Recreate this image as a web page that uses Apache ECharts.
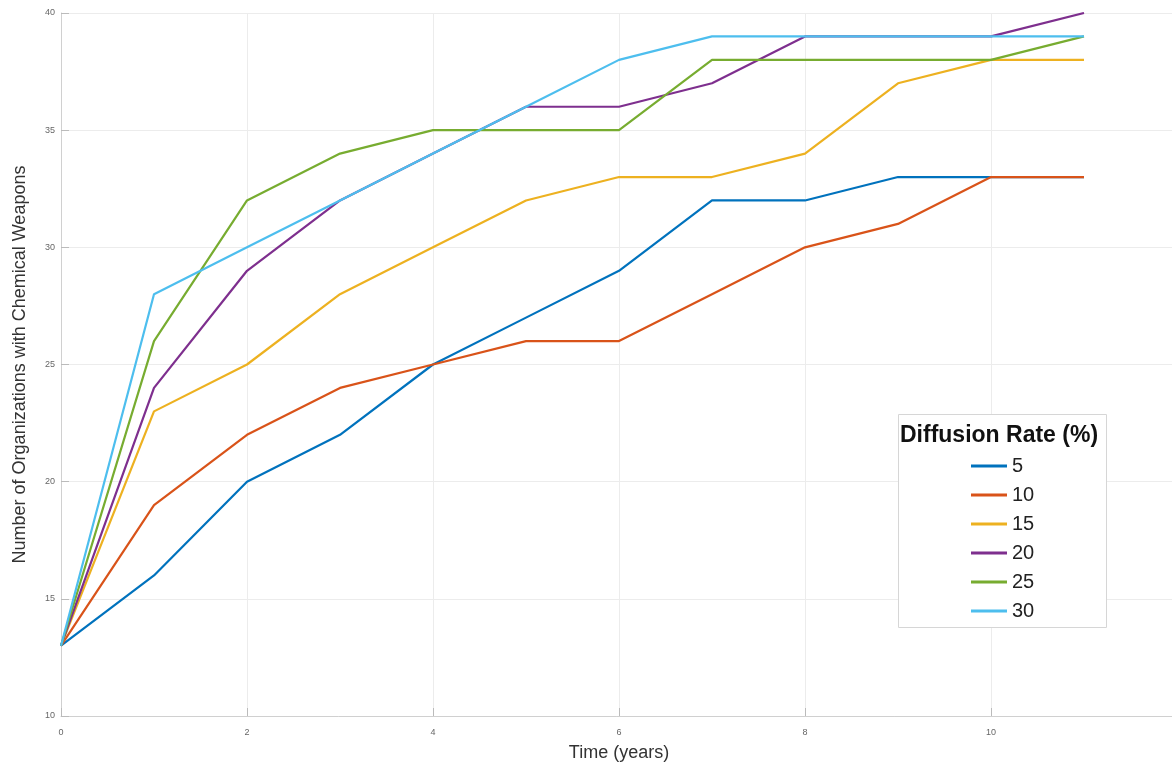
<!DOCTYPE html>
<html>
<head>
<meta charset="utf-8">
<script src="https://cdn.jsdelivr.net/npm/echarts@6/dist/echarts.min.js"></script>
<style>
  html, body { margin: 0; padding: 0; background: #fff; }
  #chart { width: 1172px; height: 770px; }
</style>
</head>
<body>
<div id="chart"></div>
<script>
// Simulated spread of chemical weapons among organizations, by diffusion rate
const years = [0, 1, 2, 3, 4, 5, 6, 7, 8, 9, 10, 11];
const rateNames = ['5', '10', '15', '20', '25', '30'];
const rate5  = [13, 16, 20, 22, 25, 27, 29, 32, 32, 33, 33, 33];
const rate10 = [13, 19, 22, 24, 25, 26, 26, 28, 30, 31, 33, 33];
const rate15 = [13, 23, 25, 28, 30, 32, 33, 33, 34, 37, 38, 38];
const rate20 = [13, 24, 29, 32, 34, 36, 36, 37, 39, 39, 39, 40];
const rate25 = [13, 26, 32, 34, 35, 35, 35, 38, 38, 38, 38, 39];
const rate30 = [13, 28, 30, 32, 34, 36, 38, 39, 39, 39, 39, 39];
const xTicks = [0, 2, 4, 6, 8, 10];
const yTicks = [10, 15, 20, 25, 30, 35, 40];

const seriesValues = [rate5, rate10, rate15, rate20, rate25, rate30];
const palette = ['#0072BD', '#D95319', '#EDB120', '#7E2F8E', '#77AC30', '#4DBEEE'];

const chart = echarts.init(document.getElementById('chart'));

const series = seriesValues.map((vals, i) => ({
  name: rateNames[i],
  type: 'line',
  data: years.map((t, k) => [t, vals[k]]),
  symbol: 'none',
  lineStyle: { width: 2.2, color: palette[i] },
  itemStyle: { color: palette[i] },
  z: 2 + i
}));

chart.setOption({
  animation: false,
  backgroundColor: '#ffffff',
  grid: { left: 61, right: -5, top: 13, bottom: 54, outerBoundsMode: 'none', containLabel: false },
  xAxis: {
    type: 'value',
    min: 0, max: 12, interval: 2,
    name: 'Time (years)',
    nameLocation: 'middle',
    nameGap: 28,
    nameTextStyle: { fontFamily: 'Liberation Sans, Arial, sans-serif', fontSize: 18, color: '#333' },
    axisLine: { show: true, lineStyle: { color: '#d0d0d0', width: 1 } },
    axisTick: { show: true, inside: true, length: 8, lineStyle: { color: '#bbb' } },
    axisLabel: {
      fontSize: 9, color: '#666', margin: 12,
      formatter: v => (xTicks.indexOf(v) >= 0 ? String(v) : '')
    },
    splitLine: { show: true, lineStyle: { color: '#ececec', width: 1 } }
  },
  yAxis: {
    type: 'value',
    min: 10, max: 40, interval: 5,
    name: 'Number of Organizations with Chemical Weapons',
    nameLocation: 'middle',
    nameGap: 32,
    nameTextStyle: { fontFamily: 'Liberation Sans, Arial, sans-serif', fontSize: 18, color: '#333' },
    axisLine: { show: true, lineStyle: { color: '#d0d0d0', width: 1 } },
    axisTick: { show: true, inside: true, length: 8, lineStyle: { color: '#bbb' } },
    axisLabel: {
      fontSize: 9, color: '#666', margin: 6,
      formatter: v => (yTicks.indexOf(v) >= 0 ? String(v) : '')
    },
    splitLine: { show: true, lineStyle: { color: '#ececec', width: 1 } }
  },
  legend: {
    data: rateNames,
    orient: 'vertical',
    left: 966,
    top: 451,
    icon: 'rect',
    itemWidth: 36,
    itemHeight: 3,
    itemGap: 9,
    z: 120,
    textStyle: { fontFamily: 'Liberation Sans, Arial, sans-serif', fontSize: 20, color: '#222' }
  },
  graphic: [
    {
      type: 'rect',
      left: 898, top: 414,
      shape: { width: 208, height: 213 },
      style: { fill: '#ffffff', stroke: '#d6d6d6', lineWidth: 1 },
      z: 50
    },
    {
      type: 'text',
      left: 900, top: 424,
      style: {
        text: 'Diffusion Rate (%)',
        font: 'bold 23px "Liberation Sans", Arial, sans-serif',
        fill: '#111'
      },
      z: 51
    }
  ],
  series: series
});
</script>
</body>
</html>
